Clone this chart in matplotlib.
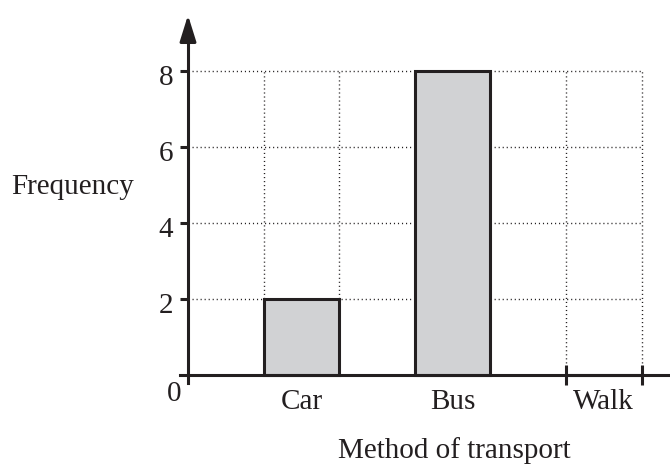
import numpy as np
import matplotlib
matplotlib.use('Agg')
from matplotlib import pyplot as plt
from matplotlib.transforms import ScaledTranslation

# data
methods = ['Car', 'Bus', 'Walk']
freq = [2, 8, 0]
bar_left = [1, 3, 5]      # each bar spans one grid square
y_ticks = [2, 4, 6, 8]

ink = '#231f20'
plt.rcParams['font.family'] = ['Liberation Serif', 'DejaVu Serif']
plt.rcParams['font.size'] = 21

fig = plt.figure(figsize=(6.7, 4.71), dpi=100)
ax = fig.add_axes([0, 0, 1, 1])

# pixel mapping: x=0 at px 188, 75.6 px per unit; y=0 at px 375, 38 px per unit
ax.set_xlim((0 - 188) / 75.6, (670 - 188) / 75.6)
ax.set_ylim((375 - 471) / 38, (375 - 0) / 38)
ax.patch.set_alpha(0)

# dotted grid
dots = (0, (0.8, 2.1))
ax.hlines(y_ticks, 0, 6, colors=ink, linestyles=dots, linewidth=1.0, zorder=1)
ax.vlines(np.arange(1, 7), 0, 8, colors=ink, linestyles=dots, linewidth=1.0, zorder=1)

# bars
ax.bar(bar_left, freq, width=1, align='edge', color='#d1d2d4',
       edgecolor=ink, linewidth=2.2, zorder=2)

# axes lines
for s in ['top', 'right']:
    ax.spines[s].set_visible(False)
ax.spines['left'].set_position(('data', 0))
ax.spines['bottom'].set_position(('data', 0))
ax.spines['left'].set_bounds(-0.2, 9.0)
ax.spines['bottom'].set_bounds(-0.1, 6.4)
for s in ['left', 'bottom']:
    ax.spines[s].set_linewidth(2.2)
    ax.spines[s].set_color(ink)
    ax.spines[s].set_zorder(3)

ax.annotate('', xy=(0, 9.47), xytext=(0, 8.8),
            arrowprops=dict(arrowstyle='-|>,head_length=1.6,head_width=0.5',
                            mutation_scale=10, color=ink, lw=2.2,
                            shrinkA=0, shrinkB=0))

# y ticks
ax.set_yticks(y_ticks)
ax.set_yticklabels([str(v) for v in y_ticks])
ax.tick_params(axis='y', direction='out', length=5.8, width=2.2, color=ink,
               pad=5, labelcolor=ink)
shift = ScaledTranslation(0, -0.04, fig.dpi_scale_trans)
for lab in ax.get_yticklabels():
    lab.set_va('center_baseline')
    lab.set_transform(lab.get_transform() + shift)

# x ticks: tick marks at walk edges, category labels in the middle of each square
ax.set_xticks([5, 6])
ax.set_xticklabels(['', ''])
ax.tick_params(axis='x', which='major', direction='inout', length=14.4, width=2.2, color=ink)
ax.set_xticks([b + 0.5 for b in bar_left], minor=True)
ax.set_xticklabels(methods, minor=True)
ax.tick_params(axis='x', which='minor', length=0, pad=10, labelcolor=ink)

ax.text(-0.185, -0.42, '0', ha='center', va='center_baseline', color=ink)

ax.set_xlabel('Method of transport', color=ink)
ax.xaxis.set_label_coords(3.525, -2.18, transform=ax.transData)
ax.xaxis.label.set_va('baseline')

ax.set_ylabel('Frequency', rotation=0, color=ink, ha='center', va='center')
ax.yaxis.set_label_coords((73 - 188) / 75.6, (375 - 187) / 38, transform=ax.transData)

fig.savefig('out.png', dpi=100)
